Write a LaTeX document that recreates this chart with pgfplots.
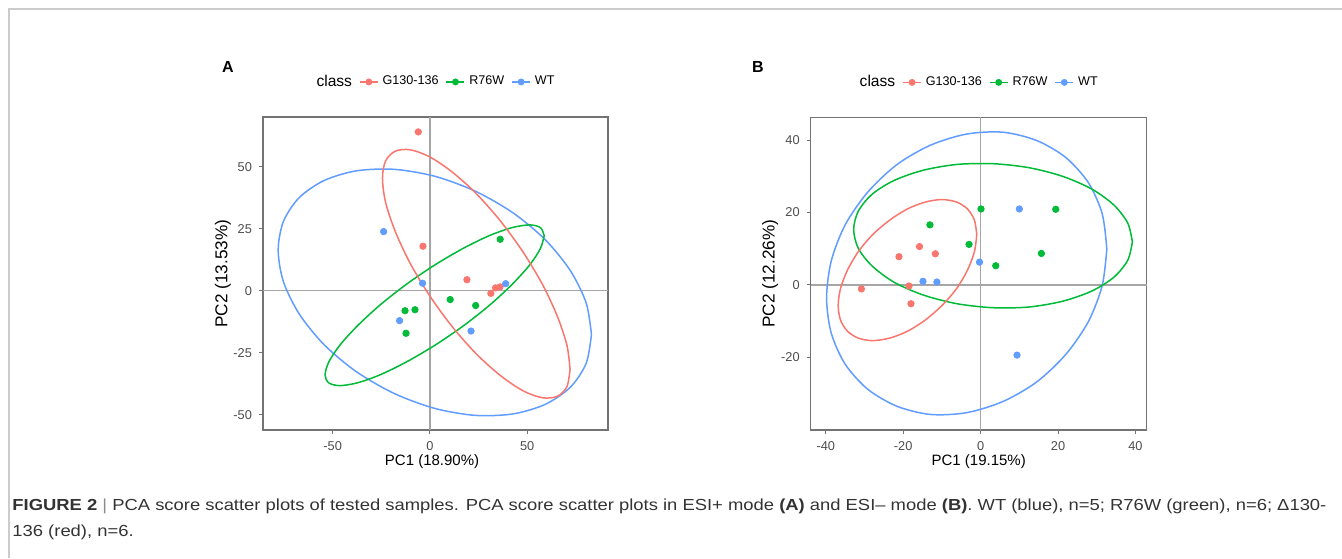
\documentclass[border=0pt]{standalone}
\usepackage{fontspec}
\setmainfont{Liberation Sans}
\usepackage{pgfplots}
\pgfplotsset{compat=1.18}

\definecolor{gRed}{HTML}{F8766D}
\definecolor{gGreen}{HTML}{00BA38}
\definecolor{gBlue}{HTML}{619CFF}

\pgfplotsset{
  pcastyle/.style={
    scale only axis,
    axis line style={black!55, line width=0.55pt},
    tick align=outside, tick pos=left,
    major tick length=2pt,
    tick style={black!55, line width=0.5pt},
    tick label style={font=\fontsize{6.4}{7}\selectfont, text=black!70},
    /pgf/number format/assume math mode=true,
    extra x ticks={0}, extra y ticks={0},
    extra x tick labels={}, extra y tick labels={},
    extra tick style={grid=major, major grid style={black!35, line width=0.6pt}, major tick length=0pt},
    legend style={draw=none, fill=none, font=\fontsize{6.3}{7}\selectfont,
      legend columns=-1, at={(0.5,1.112)}, anchor=center,
      /tikz/every even column/.append style={column sep=1.5pt}},
    legend image code/.code={\draw[mark repeat=2,mark phase=2,#1] plot coordinates {(0pt,0pt) (4.5pt,0pt) (9pt,0pt)};},
    every axis x label/.style={anchor=center, font=\fontsize{7.5}{8}\selectfont},
    every axis y label/.style={rotate=90, anchor=center, font=\fontsize{8.6}{9}\selectfont},
  },
  pts/.style={only marks, mark=*, mark size=1.6pt, forget plot},
  ell/.style={smooth, line width=0.75pt, forget plot},
}

\begin{document}
\begin{tikzpicture}
\useasboundingbox (0pt,0pt) rectangle (671pt,-279pt);
\draw[black!20, line width=1pt] (4.5pt,-279pt) -- (4.5pt,-4.5pt) -- (671pt,-4.5pt);

\node[font=\bfseries\fontsize{8}{9}\selectfont] at (114pt,-33.5pt) {A};
\node[font=\bfseries\fontsize{8}{9}\selectfont] at (379pt,-33.5pt) {B};

% ---------- A: ESI+ ----------
\begin{axis}[pcastyle,
    width=172.5pt, height=156.5pt,
    at={(131.5pt,-215pt)}, anchor=south west,
    xmin=-85.8, xmax=91.5, ymin=-56.2, ymax=70,
    xtick={-50,0,50}, ytick={-50,-25,0,25,50},
    xlabel={PC1 (18.90\%)}, ylabel={PC2 (13.53\%)},
    x label style={at={(axis description cs:0.49,-0.102)}},
    y label style={at={(axis description cs:-0.116,0.5)}},
]
\addlegendimage{empty legend}\addlegendentry{\fontsize{7.8}{8}\selectfont class}
\addlegendimage{gRed, line width=0.8pt, mark=*, mark size=1.3pt}\addlegendentry{G130-136}
\addlegendimage{gGreen, line width=0.8pt, mark=*, mark size=1.3pt}\addlegendentry{R76W}
\addlegendimage{gBlue, line width=0.8pt, mark=*, mark size=1.3pt}\addlegendentry{WT}

\addplot[ell, gBlue] coordinates {
(83.0,-17.7) (80.3,-5.0) (72.2,8.0) (59.4,20.4) (42.8,31.3) (23.3,40.1) (2.5,46.1) (-18.3,48.9)
(-37.8,48.3) (-54.4,44.4) (-67.2,37.5) (-75.3,27.9) (-78.0,16.3) (-75.3,3.6) (-67.2,-9.4) (-54.4,-21.8)
(-37.8,-32.7) (-18.3,-41.5) (2.5,-47.5) (23.3,-50.3) (42.8,-49.7) (59.4,-45.8) (72.2,-38.9) (80.3,-29.3) (83.0,-17.7)};
\addplot[ell, gGreen] coordinates {
(58.7,22.2) (56.8,25.4) (51.2,26.5) (42.2,25.4) (30.6,22.2) (17.0,17.0) (2.4,10.3) (-12.2,2.5)
(-25.8,-5.9) (-37.4,-14.3) (-46.4,-22.1) (-52.0,-28.8) (-53.9,-34.0) (-52.0,-37.2) (-46.4,-38.3) (-37.4,-37.2)
(-25.8,-34.0) (-12.2,-28.8) (2.4,-22.1) (17.0,-14.3) (30.6,-5.9) (42.2,2.5) (51.2,10.3) (56.8,17.0) (58.7,22.2)};
\addplot[ell, gRed] coordinates {
(72.0,-31.7) (70.4,-22.0) (65.5,-10.4) (57.9,2.4) (47.9,15.5) (36.3,28.0) (23.8,39.1) (11.3,47.9)
(-0.3,54.0) (-10.3,56.8) (-17.9,56.2) (-22.8,52.3) (-24.4,45.3) (-22.8,35.6) (-17.9,24.0) (-10.3,11.2)
(-0.3,-1.9) (11.3,-14.4) (23.8,-25.5) (36.3,-34.3) (47.9,-40.4) (57.9,-43.2) (65.5,-42.6) (70.4,-38.7) (72.0,-31.7)};

\addplot[pts, gRed] coordinates {(-6.0,64.0) (-3.6,17.9) (19.0,4.4) (31.3,-1.1) (33.7,1.1) (36.0,1.5)};
\addplot[pts, gGreen] coordinates {(36.1,20.7) (10.4,-3.6) (23.5,-6.0) (-12.8,-8.1) (-7.7,-7.7) (-12.3,-17.2)};
\addplot[pts, gBlue] coordinates {(-23.8,23.8) (-3.8,3.0) (38.9,2.8) (-15.6,-12.1) (21.1,-16.3)};
\end{axis}

% ---------- B: ESI- ----------
\begin{axis}[pcastyle,
    width=168pt, height=156.3pt,
    at={(405.35pt,-215pt)}, anchor=south west,
    xmin=-43.9, xmax=42.9, ymin=-40.1, ymax=46.3,
    xtick={-40,-20,0,20,40}, ytick={-20,0,20,40},
    xlabel={PC1 (19.15\%)}, ylabel={PC2 (12.26\%)},
    x label style={at={(axis description cs:0.5,-0.102)}},
    y label style={at={(axis description cs:-0.121,0.5)}},
]
\addlegendimage{empty legend}\addlegendentry{\fontsize{7.8}{8}\selectfont class}
\addlegendimage{gRed, line width=0.8pt, mark=*, mark size=1.3pt}\addlegendentry{G130-136}
\addlegendimage{gGreen, line width=0.8pt, mark=*, mark size=1.3pt}\addlegendentry{R76W}
\addlegendimage{gBlue, line width=0.8pt, mark=*, mark size=1.3pt}\addlegendentry{WT}

\addplot[ell, gBlue] coordinates {
(32.6,10.0) (31.4,19.7) (27.8,28.3) (22.0,35.2) (14.5,39.9) (5.8,42.2) (-3.6,41.7) (-13.0,38.6)
(-21.7,33.2) (-29.2,25.6) (-35.0,16.6) (-38.6,6.6) (-39.8,-3.6) (-38.6,-13.3) (-35.0,-21.9) (-29.2,-28.8)
(-21.7,-33.5) (-13.0,-35.8) (-3.6,-35.3) (5.8,-32.2) (14.5,-26.8) (22.0,-19.2) (27.8,-10.2) (31.4,-0.2) (32.6,10.0)};
\addplot[ell, gGreen] coordinates {
(39.2,11.9) (38.0,17.1) (34.4,22.1) (28.7,26.5) (21.2,30.0) (12.5,32.4) (3.2,33.5) (-6.1,33.3)
(-14.8,31.7) (-22.3,28.9) (-28.0,25.1) (-31.6,20.4) (-32.8,15.3) (-31.6,10.1) (-28.0,5.2) (-22.3,0.7)
(-14.8,-2.8) (-6.1,-5.2) (3.2,-6.3) (12.5,-6.1) (21.2,-4.5) (28.7,-1.7) (34.4,2.1) (38.0,6.8) (39.2,11.9)};
\addplot[ell, gRed] coordinates {
(-1.0,13.9) (-1.6,17.9) (-3.4,21.0) (-6.2,22.9) (-10.0,23.6) (-14.3,22.9) (-18.9,21.0) (-23.5,17.9)
(-27.9,13.9) (-31.6,9.2) (-34.4,4.1) (-36.2,-1.0) (-36.8,-5.7) (-36.2,-9.7) (-34.4,-12.8) (-31.6,-14.7)
(-27.9,-15.4) (-23.5,-14.7) (-18.9,-12.8) (-14.3,-9.7) (-10.0,-5.7) (-6.2,-1.0) (-3.4,4.1) (-1.6,9.2) (-1.0,13.9)};

\addplot[pts, gRed] coordinates {(-30.8,-1.1) (-21.1,7.8) (-15.8,10.6) (-11.7,8.6) (-18.5,-0.3) (-18.0,-5.2)};
\addplot[pts, gGreen] coordinates {(-13.1,16.6) (-3.0,11.2) (0.1,21.0) (3.9,5.3) (15.7,8.7) (19.4,20.9)};
\addplot[pts, gBlue] coordinates {(-14.9,1.0) (-11.3,0.8) (-0.3,6.3) (10.0,21.0) (9.4,-19.4)};
\end{axis}

% caption
\node[anchor=base west, inner sep=0pt, xscale=1.15, font=\fontsize{8}{9}\selectfont, text=black!80] at (6pt,-255pt)
  {\textbf{FIGURE 2} {\color{black!45}|} PCA score scatter plots of tested samples. PCA score scatter plots in ESI+ mode \textbf{(A)} and ESI– mode \textbf{(B)}. WT (blue), n=5; R76W (green), n=6; Δ130-};
\node[anchor=base west, inner sep=0pt, xscale=1.15, font=\fontsize{8}{9}\selectfont, text=black!80] at (6pt,-268pt)
  {136 (red), n=6.};
\end{tikzpicture}
\end{document}
